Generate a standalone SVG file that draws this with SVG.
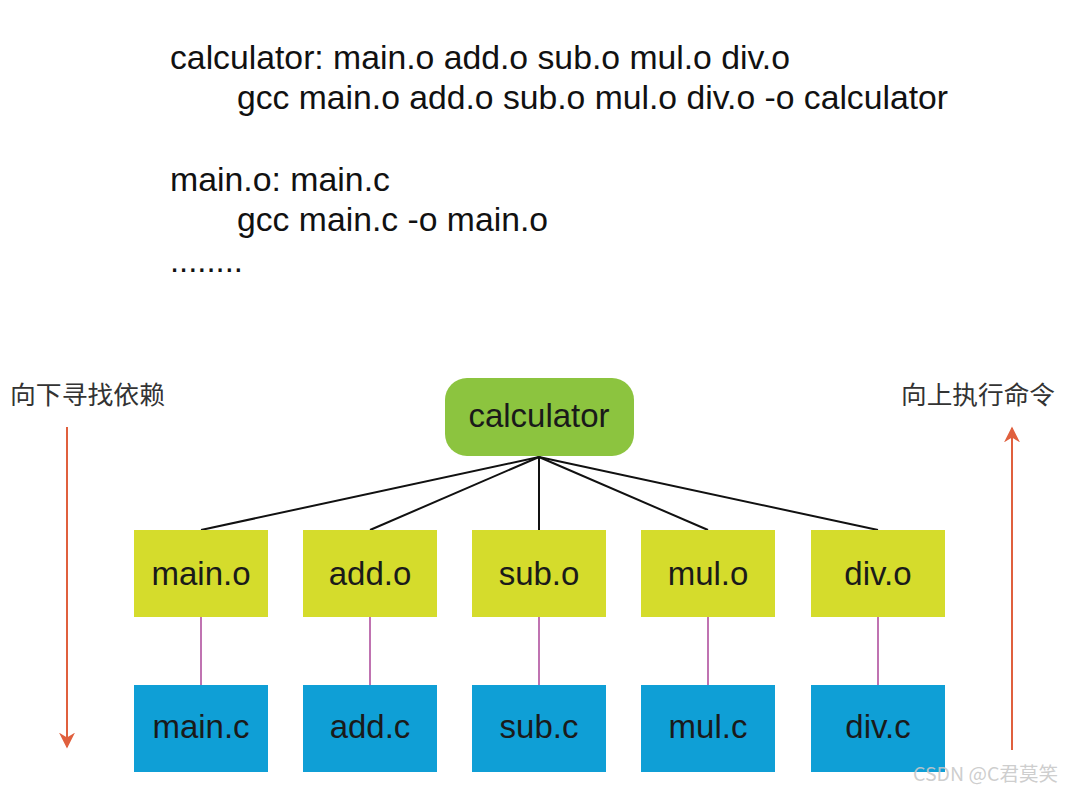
<svg xmlns="http://www.w3.org/2000/svg" width="1074" height="791" viewBox="0 0 1074 791">
<defs>
<style>
.code{font-family:"Liberation Sans",Arial,sans-serif;font-size:34px;fill:#111}
.lbl{font-family:"Liberation Sans",Arial,sans-serif;font-size:33px;fill:#1a1a1a;text-anchor:middle}
.cjk{font-family:"Noto Sans CJK SC","Noto Sans",sans-serif;font-size:25px;fill:#333}
.obj{fill:#d5dc2c}
.src{fill:#0f9fd6}
.tree{stroke:#111;stroke-width:2;fill:none}
.link{stroke:#b0509e;stroke-width:1.6;fill:none}
.dir{stroke:#e0603e;stroke-width:2;fill:none}
</style>
<marker id="ah" viewBox="0 0 10 10" refX="9" refY="5" markerWidth="8" markerHeight="8" orient="auto" markerUnits="strokeWidth">
<path d="M0,0 L10,5 L0,10 L3,5 z" fill="#e0603e"/>
</marker>
</defs>
<rect width="1074" height="791" fill="#fff"/>
<g id="code">
<text class="code" x="170" y="69" textLength="620" lengthAdjust="spacingAndGlyphs">calculator: main.o add.o sub.o mul.o div.o</text>
<text class="code" x="237" y="109" textLength="711" lengthAdjust="spacingAndGlyphs">gcc main.o add.o sub.o mul.o div.o -o calculator</text>
<text class="code" x="170" y="191" textLength="220" lengthAdjust="spacingAndGlyphs">main.o: main.c</text>
<text class="code" x="237" y="231" textLength="311" lengthAdjust="spacingAndGlyphs">gcc main.c -o main.o</text>
<text class="code" x="170" y="272" textLength="73" lengthAdjust="spacingAndGlyphs">........</text>
</g>
<g id="left-label"><text class="cjk" x="10" y="404" textLength="155" lengthAdjust="spacingAndGlyphs">向下寻找依赖</text></g>
<g id="right-label"><text class="cjk" x="901" y="404" textLength="154" lengthAdjust="spacingAndGlyphs">向上执行命令</text></g>
<g id="connectors">
<line class="dir" x1="67" y1="427" x2="67" y2="747" marker-end="url(#ah)"/>
<line class="dir" x1="1012" y1="750" x2="1012" y2="428" marker-end="url(#ah)"/>
<line class="tree" x1="539" y1="457" x2="201" y2="530"/>
<line class="tree" x1="539" y1="457" x2="370" y2="530"/>
<line class="tree" x1="539" y1="457" x2="539" y2="530"/>
<line class="tree" x1="539" y1="457" x2="708" y2="530"/>
<line class="tree" x1="539" y1="457" x2="878" y2="530"/>
<line class="link" x1="201" y1="617" x2="201" y2="685"/>
<line class="link" x1="370" y1="617" x2="370" y2="685"/>
<line class="link" x1="539" y1="617" x2="539" y2="685"/>
<line class="link" x1="708" y1="617" x2="708" y2="685"/>
<line class="link" x1="878" y1="617" x2="878" y2="685"/>
</g>
<g id="calculator">
<rect x="445" y="378" width="189" height="78" rx="22" fill="#8cc43f"/>
<text class="lbl" x="539" y="427">calculator</text>
</g>
<g id="main-o"><rect class="obj" x="134" y="530" width="134" height="87"/><text class="lbl" x="201" y="585">main.o</text></g>
<g id="add-o"><rect class="obj" x="303" y="530" width="134" height="87"/><text class="lbl" x="370" y="585">add.o</text></g>
<g id="sub-o"><rect class="obj" x="472" y="530" width="134" height="87"/><text class="lbl" x="539" y="585">sub.o</text></g>
<g id="mul-o"><rect class="obj" x="641" y="530" width="134" height="87"/><text class="lbl" x="708" y="585">mul.o</text></g>
<g id="div-o"><rect class="obj" x="811" y="530" width="134" height="87"/><text class="lbl" x="878" y="585">div.o</text></g>
<g id="main-c"><rect class="src" x="134" y="685" width="134" height="87"/><text class="lbl" x="201" y="738">main.c</text></g>
<g id="add-c"><rect class="src" x="303" y="685" width="134" height="87"/><text class="lbl" x="370" y="738">add.c</text></g>
<g id="sub-c"><rect class="src" x="472" y="685" width="134" height="87"/><text class="lbl" x="539" y="738">sub.c</text></g>
<g id="mul-c"><rect class="src" x="641" y="685" width="134" height="87"/><text class="lbl" x="708" y="738">mul.c</text></g>
<g id="div-c"><rect class="src" x="811" y="685" width="134" height="87"/><text class="lbl" x="878" y="738">div.c</text></g>
<g id="watermark"><text x="913" y="781" font-family="Noto Sans CJK SC, Noto Sans, sans-serif" font-size="19" fill="#c8c8c8" fill-opacity="0.9" textLength="145" lengthAdjust="spacingAndGlyphs">CSDN @C君莫笑</text></g>
</svg>
